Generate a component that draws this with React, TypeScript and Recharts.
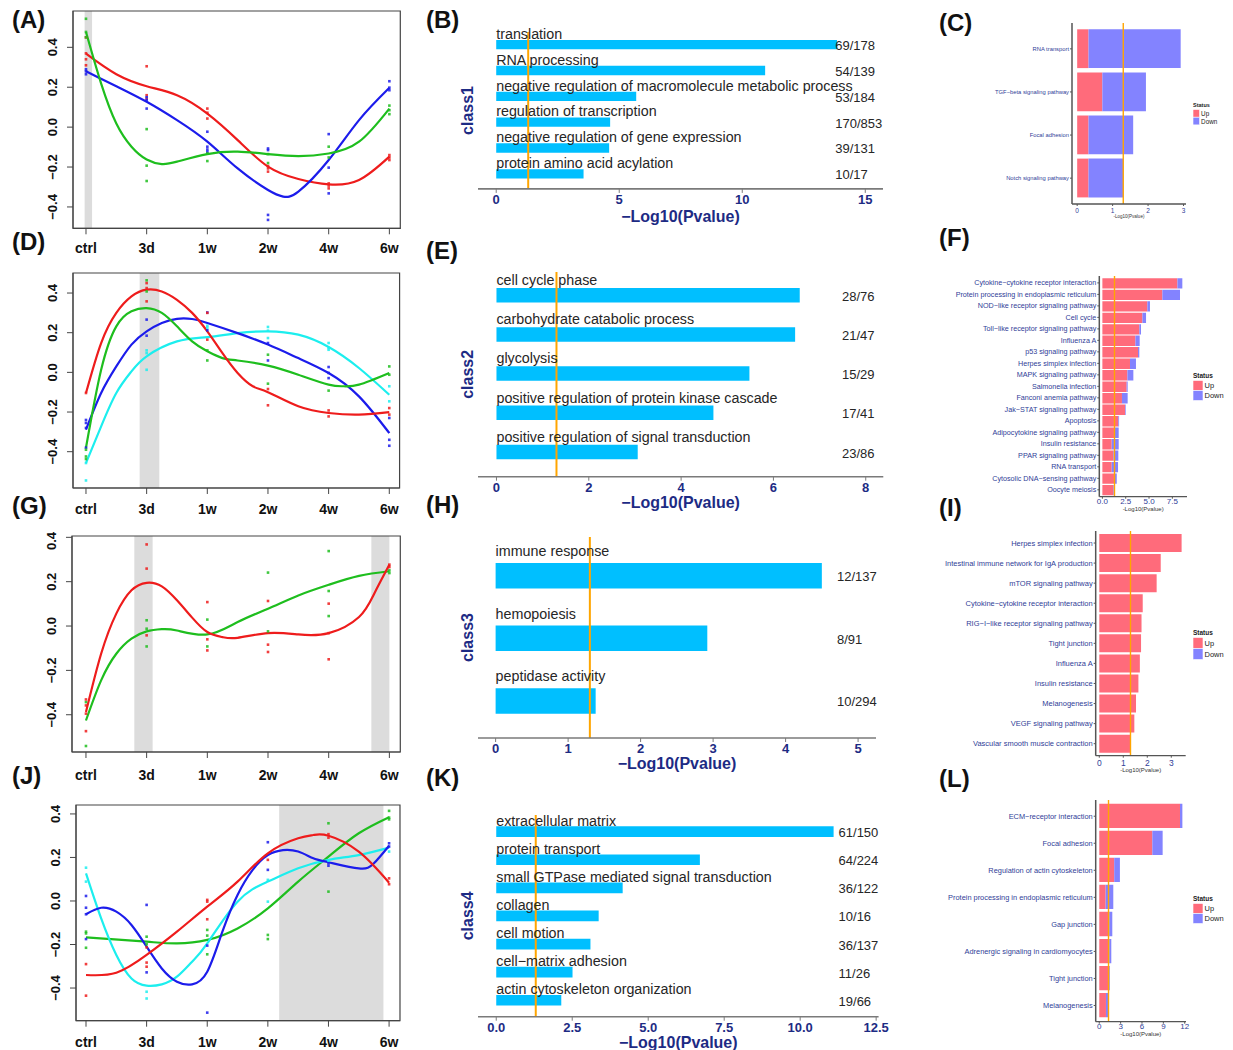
import React from "react";
import {
  ComposedChart,
  Line,
  Scatter,
  XAxis,
  YAxis,
  ReferenceArea,
  ReferenceLine,
  BarChart,
  Bar,
  LabelList,
} from "recharts";

const FONT = 'Arial, "Liberation Sans", Helvetica, sans-serif';
const NAVY = "#1d2b84";
const TICK_BLUE = "#2f4097";
const BOX = "#444";
const SKY = "#00BFFF";
const ORANGE = "#FFA500";
const UP = "#FF6B7B";
const DOWN = "#8383FF";
const RED = "#EE1C1C";
const GREEN = "#1EBE1E";
const BLUE = "#1C1CEB";
const CYAN = "#1CEEEE";

const TIME = ["ctrl", "3d", "1w", "2w", "4w", "6w"];

// ---- trend panels: fitted curves [time index, value] and replicate dots per time point
const A_RED = [[0, 0.368], [0.5, 0.265], [1, 0.205], [1.5, 0.16], [2, 0.068], [2.5, -0.065], [3, -0.198], [3.5, -0.26], [4, -0.287], [4.5, -0.265], [5, -0.148]];
const A_BLUE = [[0, 0.28], [0.5, 0.205], [1, 0.127], [1.5, 0.035], [2, -0.073], [2.5, -0.207], [3, -0.315], [3.25, -0.348], [3.5, -0.323], [4, -0.165], [4.5, 0.035], [5, 0.197]];
const A_GREEN = [[0, 0.477], [0.25, 0.218], [0.5, 0.018], [0.75, -0.098], [1, -0.162], [1.25, -0.185], [1.5, -0.173], [2, -0.135], [2.5, -0.123], [3, -0.135], [3.5, -0.145], [4, -0.132], [4.5, -0.073], [5, 0.093]];
const A_RED_PTS = [[0.45, 0.37, 0.34, 0.31], [0.305, 0.16, 0.143], [0.093, 0.072, 0.043], [-0.195, -0.207, -0.223], [-0.282, -0.293, -0.307], [-0.14, -0.152, -0.165]];
const A_BLUE_PTS = [[0.29, 0.28, 0.265], [0.15, 0.135, 0.093], [-0.023, -0.098, -0.112, -0.123], [-0.107, -0.115, -0.44, -0.465], [-0.035, -0.203, -0.332], [0.23, 0.198, 0.185]];
const A_GREEN_PTS = [[0.543, 0.477, 0.45], [-0.01, -0.193, -0.27], [-0.132, -0.17], [-0.135, -0.18], [-0.098, -0.152], [0.108, 0.085, 0.065]];

const D_RED = [[0, -0.104], [0.25, 0.148], [0.5, 0.3], [0.75, 0.383], [1, 0.417], [1.25, 0.408], [1.5, 0.366], [1.75, 0.3], [2, 0.207], [2.25, 0.097], [2.5, -0.003], [2.75, -0.07], [3, -0.1], [3.5, -0.171], [4, -0.205], [4.5, -0.213], [5, -0.2]];
const D_GREEN = [[0, -0.38], [0.25, 0.013], [0.5, 0.232], [0.75, 0.308], [1, 0.324], [1.25, 0.3], [1.5, 0.232], [1.75, 0.156], [2, 0.106], [2.25, 0.072], [2.5, 0.06], [3, 0.034], [3.5, -0.012], [4, -0.062], [4.25, -0.07], [4.5, -0.062], [5, -0.003]];
const D_BLUE = [[0, -0.289], [0.25, -0.104], [0.5, 0.03], [0.75, 0.14], [1, 0.207], [1.25, 0.249], [1.5, 0.27], [1.75, 0.269], [2, 0.249], [2.5, 0.198], [3, 0.14], [3.5, 0.072], [4, -0.003], [4.5, -0.121], [5, -0.306]];
const D_CYAN = [[0, -0.457], [0.25, -0.272], [0.5, -0.104], [0.75, 0.005], [1, 0.081], [1.5, 0.156], [2, 0.178], [2.5, 0.198], [3, 0.207], [3.5, 0.19], [4, 0.128], [4.5, 0.022], [5, -0.113]];
const D_RED_PTS = [[-0.104], [0.45, 0.425, 0.358], [0.3, 0.165], [-0.084, -0.166], [-0.192, -0.222], [-0.18, -0.213]];
const D_GREEN_PTS = [[-0.39, -0.424, -0.437], [0.464, 0.408], [0.111, 0.06], [0.089, -0.057], [-0.092], [0.03, -0.012]];
const D_BLUE_PTS = [[-0.24, -0.255, -0.28, -0.38], [0.266, 0.185], [0.302, 0.212], [0.148, 0.06], [0.027, -0.003, -0.029], [-0.23, -0.34, -0.37]];
const D_CYAN_PTS = [[-0.457, -0.545], [0.111, 0.097, 0.013], [0.235, 0.224], [0.229, 0.21, 0.173], [0.148, 0.123, 0.114], [-0.07, -0.146]];

const G_RED = [[0, -0.388], [0.25, -0.125], [0.5, 0.056], [0.75, 0.161], [1, 0.195], [1.25, 0.179], [1.5, 0.116], [1.75, 0.038], [2, -0.027], [2.25, -0.05], [2.5, -0.053], [3, -0.032], [3.5, -0.038], [4, -0.032], [4.5, 0.041], [4.75, 0.146], [5, 0.277]];
const G_GREEN = [[0, -0.426], [0.25, -0.245], [0.5, -0.125], [0.75, -0.057], [1, -0.024], [1.25, -0.014], [1.5, -0.02], [2, -0.038], [2.5, 0.018], [3, 0.078], [3.5, 0.138], [4, 0.186], [4.5, 0.226], [5, 0.247]];
const G_RED_PTS = [[-0.331, -0.358, -0.395, -0.474], [0.368, 0.259, -0.042], [0.108, -0.06, -0.11], [0.113, -0.084, -0.117], [0.101, -0.032, -0.15], [0.277, 0.266]];
const G_GREEN_PTS = [[-0.343, -0.541], [0.026, -0.012, -0.092], [0.029, -0.092], [0.241, -0.024], [0.338, 0.158, 0.045], [0.251, 0.239]];

const J_RED = [[0, -0.34], [0.5, -0.33], [1, -0.248], [1.5, -0.141], [2, -0.026], [2.5, 0.089], [3, 0.219], [3.5, 0.288], [3.75, 0.303], [4, 0.3], [4.5, 0.227], [5, 0.084]];
const J_GREEN = [[0, -0.167], [1, -0.187], [1.5, -0.195], [2, -0.179], [2.5, -0.126], [3, -0.034], [3.5, 0.089], [4, 0.204], [4.5, 0.311], [5, 0.385]];
const J_BLUE = [[0, -0.061], [0.25, -0.031], [0.5, -0.049], [0.75, -0.11], [1, -0.21], [1.25, -0.31], [1.5, -0.371], [1.75, -0.383], [2, -0.325], [2.25, -0.141], [2.5, 0.028], [2.75, 0.143], [3, 0.211], [3.25, 0.234], [3.5, 0.227], [3.75, 0.196], [4, 0.178], [4.5, 0.15], [4.75, 0.173], [5, 0.254]];
const J_CYAN = [[0, 0.127], [0.25, -0.08], [0.5, -0.248], [0.75, -0.356], [1, -0.389], [1.25, -0.383], [1.5, -0.348], [1.75, -0.279], [2, -0.195], [2.5, -0.003], [3, 0.089], [3.5, 0.15], [4, 0.189], [4.5, 0.211], [5, 0.245]];
const J_RED_PTS = [[-0.29, -0.435], [-0.213, -0.283, -0.302], [0.005, -0.003, -0.084], [0.189], [0.307, 0.291], [0.104, 0.077]];
const J_GREEN_PTS = [[-0.141, -0.149, -0.215], [-0.164, -0.199], [-0.133, -0.159, -0.245], [-0.156, -0.175], [0.357, 0.043], [0.414, 0.383, 0.375]];
const J_BLUE_PTS = [[0.023, -0.031, -0.061, -0.175], [-0.018, -0.328], [-0.205, -0.513], [0.27, 0.143], [0.173, 0.162], [0.265, 0.25]];
const J_CYAN_PTS = [[0.153, 0.089], [-0.417, -0.448], [], [0.097, -0.003], [0.184], [0.227]];

// ---- GO enrichment panels
const B_TERMS = ["translation", "RNA processing", "negative regulation of macromolecule metabolic process", "regulation of transcription", "negative regulation of gene expression", "protein amino acid acylation"];
const B_VALUES = [13.85, 10.93, 5.69, 4.63, 4.59, 3.55];
const B_COUNTS = ["69/178", "54/139", "53/184", "170/853", "39/131", "10/17"];

const E_TERMS = ["cell cycle phase", "carbohydrate catabolic process", "glycolysis", "positive regulation of protein kinase cascade", "positive regulation of signal transduction"];
const E_VALUES = [6.57, 6.47, 5.48, 4.7, 3.06];
const E_COUNTS = ["28/76", "21/47", "15/29", "17/41", "23/86"];

const H_TERMS = ["immune response", "hemopoiesis", "peptidase activity"];
const H_VALUES = [4.5, 2.92, 1.38];
const H_COUNTS = ["12/137", "8/91", "10/294"];

const K_TERMS = ["extracellular matrix", "protein transport", "small GTPase mediated signal transduction", "collagen", "cell motion", "cell\u2212matrix adhesion", "actin cytoskeleton organization"];
const K_VALUES = [11.1, 6.7, 4.16, 3.37, 3.1, 2.51, 2.14];
const K_COUNTS = ["61/150", "64/224", "36/122", "10/16", "36/137", "11/26", "19/66"];

// ---- KEGG panels (up / down parts of -log10 p)
const C_PATHS = ["RNA transport", "TGF\u2212beta signaling pathway", "Focal adhesion", "Notch signaling pathway"];
const C_UP = [0.32, 0.71, 0.32, 0.32];
const C_DOWN = [2.6, 1.23, 1.26, 0.98];

const F_PATHS = [
  "Cytokine\u2212cytokine receptor interaction",
  "Protein processing in endoplasmic reticulum",
  "NOD\u2212like receptor signaling pathway",
  "Cell cycle",
  "Toll\u2212like receptor signaling pathway",
  "Influenza A",
  "p53 signaling pathway",
  "Herpes simplex infection",
  "MAPK signaling pathway",
  "Salmonella infection",
  "Fanconi anemia pathway",
  "Jak\u2212STAT signaling pathway",
  "Apoptosis",
  "Adipocytokine signaling pathway",
  "Insulin resistance",
  "PPAR signaling pathway",
  "RNA transport",
  "Cytosolic DNA\u2212sensing pathway",
  "Oocyte meiosis",
];
const F_UP = [8.04, 6.43, 4.82, 4.29, 3.96, 3.54, 3.82, 2.96, 2.68, 2.6, 2.1, 2.43, 1.71, 1.25, 1.0, 1.18, 1.0, 1.32, 1.18];
const F_DOWN = [0.53, 1.89, 0.28, 0.39, 0.18, 0.46, 0.14, 0.64, 0.64, 0.11, 0.61, 0.07, 0.08, 0.5, 0.75, 0.53, 0.68, 0.22, 0.14];

const I_PATHS = [
  "Herpes simplex infection",
  "Intestinal immune network for IgA production",
  "mTOR signaling pathway",
  "Cytokine\u2212cytokine receptor interaction",
  "RIG\u2212I\u2212like receptor signaling pathway",
  "Tight junction",
  "Influenza A",
  "Insulin resistance",
  "Melanogenesis",
  "VEGF signaling pathway",
  "Vascular smooth muscle contraction",
];
const I_UP = [3.43, 2.56, 2.39, 1.81, 1.76, 1.74, 1.69, 1.63, 1.53, 1.46, 1.32];
const I_DOWN = [0, 0, 0, 0, 0, 0, 0, 0, 0, 0, 0];

const L_PATHS = [
  "ECM\u2212receptor interaction",
  "Focal adhesion",
  "Regulation of actin cytoskeleton",
  "Protein processing in endoplasmic reticulum",
  "Gap junction",
  "Adrenergic signaling in cardiomyocytes",
  "Tight junction",
  "Melanogenesis",
];
const L_UP = [11.34, 7.45, 2.1, 0.9, 1.4, 1.4, 1.4, 0.94];
const L_DOWN = [0.33, 1.45, 0.8, 1.07, 0.43, 0.29, 0.1, 0.42];

// chart frame so that the plot area lands on a given page box
function frame(box: any, yw: number, xh: number, mt = 4, mr = 6, mb = 4) {
  return {
    style: { position: "absolute" as const, left: box.l - yw, top: box.t - mt },
    width: yw + (box.r - box.l) + mr,
    height: mt + (box.b - box.t) + xh + mb,
    margin: { top: mt, right: mr, bottom: mb, left: 0 },
  };
}

const minus = (s: string) => s.replace("-", "\u2212");

function TrendPanel({ box, xDomain, yDomain, series, bands, labelDy }: any) {
  const yw = 40;
  const xh = 34;
  const f = frame(box, yw, xh);
  return (
    <div style={f.style}>
      <ComposedChart width={f.width} height={f.height} margin={f.margin}>
        <XAxis
          type="number"
          dataKey="x"
          domain={xDomain}
          allowDataOverflow
          ticks={[0, 1, 2, 3, 4, 5]}
          interval={0}
          height={xh}
          tickSize={6}
          axisLine={{ stroke: BOX }}
          tickLine={{ stroke: BOX }}
          tick={(p: any) => (
            <text x={p.x} y={p.y + labelDy - 3} textAnchor="middle" fontFamily={FONT} fontWeight="bold" fontSize={14} fill="#111">
              {TIME[p.payload.value]}
            </text>
          )}
        />
        <YAxis
          type="number"
          dataKey="y"
          domain={yDomain}
          allowDataOverflow
          ticks={[-0.4, -0.2, 0, 0.2, 0.4]}
          width={yw}
          tickSize={6}
          axisLine={{ stroke: BOX }}
          tickLine={{ stroke: BOX }}
          tick={(p: any) => (
            <text
              x={p.x - 8}
              y={p.y}
              transform={`rotate(-90 ${p.x - 8} ${p.y})`}
              textAnchor="middle"
              fontFamily={FONT}
              fontWeight="bold"
              fontSize={13}
              fill="#111"
            >
              {minus(p.payload.value.toFixed(1))}
            </text>
          )}
        />
        {bands.map((b: number[], i: number) => (
          <ReferenceArea key={"band" + i} x1={b[0]} x2={b[1]} fill="#d6d6d6" fillOpacity={0.85} stroke="none" />
        ))}
        <ReferenceArea x1={xDomain[0]} x2={xDomain[1]} y1={yDomain[0]} y2={yDomain[1]} fill="none" stroke={BOX} strokeWidth={1.2} />
        {series.map((s: any, i: number) => (
          <Scatter
            key={"pts" + i}
            data={s.dots.flatMap((vals: number[], t: number) => vals.map((v) => ({ x: t, y: v })))}
            dataKey="y"
            fill={s.color}
            isAnimationActive={false}
            shape={(p: any) => <rect x={p.cx - 1.3} y={p.cy - 1.3} width={2.6} height={2.6} fill={s.color} fillOpacity={0.85} />}
          />
        ))}
        {series.map((s: any, i: number) => (
          <Line
            key={"line" + i}
            data={s.line.map((d: number[]) => ({ x: d[0], y: d[1] }))}
            dataKey="y"
            type="natural"
            stroke={s.color}
            strokeWidth={2.2}
            dot={false}
            activeDot={false}
            isAnimationActive={false}
          />
        ))}
      </ComposedChart>
    </div>
  );
}

function GoPanel({ box, domain, ticks, fmt, terms, values, counts, cls, barSize, pad, textGap, countX, titleOffset }: any) {
  const data = terms.map((term: string, i: number) => ({ term, value: values[i], count: counts[i] }));
  const yw = 22;
  const xh = 42;
  const f = frame(box, yw, xh, 14, 12, 2);
  const localCountX = countX - (box.l - yw);
  return (
    <div style={f.style}>
      <BarChart layout="vertical" data={data} width={f.width} height={f.height} margin={f.margin}>
        <XAxis
          type="number"
          domain={domain}
          allowDataOverflow
          ticks={ticks}
          interval={0}
          height={xh}
          tickSize={4}
          axisLine={{ stroke: "#7a7a7a", strokeWidth: 1.6 }}
          tickLine={{ stroke: "#7a7a7a" }}
          tick={(p: any) => (
            <text x={p.x} y={p.y + 9} textAnchor="middle" fontFamily={FONT} fontWeight="bold" fontSize={13} fill={NAVY}>
              {fmt(p.payload.value)}
            </text>
          )}
          label={{
            value: "\u2212Log10(Pvalue)",
            position: "insideTop",
            offset: titleOffset,
            fill: NAVY,
            fontSize: 16,
            fontWeight: "bold",
            fontFamily: FONT,
          }}
        />
        <YAxis
          type="category"
          dataKey="term"
          width={yw}
          tick={false}
          axisLine={false}
          tickLine={false}
          padding={{ top: pad[0], bottom: pad[1] }}
          label={{ value: cls, angle: -90, position: "center", fill: NAVY, fontSize: 16, fontWeight: "bold", fontFamily: FONT }}
        />
        <Bar dataKey="value" fill={SKY} barSize={barSize} isAnimationActive={false}>
          <LabelList
            dataKey="term"
            content={(p: any) => (
              <text x={p.x} y={p.y - textGap} fontFamily={FONT} fontSize={14.3} fill="#262626">
                {p.value}
              </text>
            )}
          />
          <LabelList
            dataKey="count"
            content={(p: any) => (
              <text x={localCountX} y={p.y + p.height / 2 + 1} dominantBaseline="central" fontFamily={FONT} fontSize={13} fill="#262626">
                {p.value}
              </text>
            )}
          />
        </Bar>
        <ReferenceLine x={1.3} stroke={ORANGE} strokeWidth={2} />
      </BarChart>
    </div>
  );
}

function KeggPanel({ box, left, domain, ticks, fmt, paths, up, down, barSize, pad, fs, tfs, lfs, tickMargin, xh }: any) {
  const data = paths.map((path: string, i: number) => ({ path, up: up[i], down: down[i] }));
  const yw = box.l - left;
  const f = frame(box, yw, xh, 2, 8, 2);
  return (
    <div style={f.style}>
      <BarChart layout="vertical" data={data} width={f.width} height={f.height} margin={f.margin}>
        <XAxis
          type="number"
          domain={domain}
          allowDataOverflow
          ticks={ticks}
          interval={0}
          height={xh}
          tickSize={2}
          tickMargin={tickMargin}
          tickFormatter={fmt}
          axisLine={{ stroke: "#555", strokeWidth: 1.3 }}
          tickLine={{ stroke: "#555" }}
          tick={{ fontSize: tfs, fill: TICK_BLUE, fontFamily: FONT }}
          label={{ value: "-Log10(Pvalue)", position: "insideBottom", offset: 0, fill: "#333", fontSize: lfs, fontFamily: FONT }}
        />
        <YAxis
          type="category"
          dataKey="path"
          width={yw}
          interval={0}
          tickSize={2}
          tickMargin={1}
          padding={{ top: pad, bottom: pad }}
          axisLine={{ stroke: "#555", strokeWidth: 1.5 }}
          tickLine={{ stroke: "#555" }}
          tick={(p: any) => (
            <text x={p.x} y={p.y} textAnchor="end" dominantBaseline="central" fontFamily={FONT} fontSize={fs} fill={TICK_BLUE}>
              {p.payload.value}
            </text>
          )}
        />
        <Bar dataKey="up" stackId="s" fill={UP} barSize={barSize} isAnimationActive={false} />
        <Bar dataKey="down" stackId="s" fill={DOWN} barSize={barSize} isAnimationActive={false} />
        <ReferenceLine x={1.3} stroke={ORANGE} strokeWidth={1.4} />
      </BarChart>
    </div>
  );
}

function StatusLegend({ x, y, fs, sw, sh }: any) {
  return (
    <svg style={{ position: "absolute", left: x, top: y, overflow: "visible" }} width={40} height={3 * sh + 4}>
      <text x={0} y={fs * 0.75} fontFamily={FONT} fontWeight="bold" fontSize={fs} fill="#222">
        Status
      </text>
      {[["Up", UP], ["Down", DOWN]].map(([name, color], i) => (
        <g key={name}>
          <rect x={0} y={fs + 1 + i * sh} width={sw} height={sh} fill={color} stroke="#fff" strokeWidth={0.6} />
          <text x={sw + 1.5} y={fs + 1 + i * sh + sh / 2} dominantBaseline="central" fontFamily={FONT} fontSize={fs * 1.15} fill="#222">
            {name}
          </text>
        </g>
      ))}
    </svg>
  );
}

const PANEL_LETTERS = [
  ["(A)", 12, 28], ["(B)", 426, 28], ["(C)", 939, 31],
  ["(D)", 12, 250], ["(E)", 426, 259], ["(F)", 939, 246],
  ["(G)", 12, 514], ["(H)", 426, 513], ["(I)", 939, 516],
  ["(J)", 12, 784], ["(K)", 426, 786], ["(L)", 939, 787],
];

export default function App() {
  const str = (v: number) => String(v);
  return (
    <div style={{ position: "absolute", left: 0, top: 0, width: 1233, height: 1050, background: "#fff", overflow: "hidden", fontFamily: FONT }}>
      <TrendPanel
        box={{ l: 72.7, t: 10.7, r: 400, b: 228 }}
        xDomain={[-0.214, 5.18]}
        yDomain={[-0.507, 0.582]}
        bands={[[-0.022, 0.1]]}
        labelDy={20}
        series={[
          { color: RED, line: A_RED, dots: A_RED_PTS },
          { color: BLUE, line: A_BLUE, dots: A_BLUE_PTS },
          { color: GREEN, line: A_GREEN, dots: A_GREEN_PTS },
        ]}
      />
      <TrendPanel
        box={{ l: 72.7, t: 273.3, r: 399.3, b: 488.3 }}
        xDomain={[-0.214, 5.17]}
        yDomain={[-0.583, 0.501]}
        bands={[[0.885, 1.209]]}
        labelDy={21.5}
        series={[
          { color: CYAN, line: D_CYAN, dots: D_CYAN_PTS },
          { color: BLUE, line: D_BLUE, dots: D_BLUE_PTS },
          { color: GREEN, line: D_GREEN, dots: D_GREEN_PTS },
          { color: RED, line: D_RED, dots: D_RED_PTS },
        ]}
      />
      <TrendPanel
        box={{ l: 71.7, t: 535.7, r: 400, b: 751.7 }}
        xDomain={[-0.23, 5.18]}
        yDomain={[-0.568, 0.406]}
        bands={[[0.797, 1.099], [4.703, 5.0]]}
        labelDy={23}
        series={[
          { color: GREEN, line: G_GREEN, dots: G_GREEN_PTS },
          { color: RED, line: G_RED, dots: G_RED_PTS },
        ]}
      />
      <TrendPanel
        box={{ l: 76, t: 805, r: 400, b: 1020.7 }}
        xDomain={[-0.165, 5.18]}
        yDomain={[-0.55, 0.441]}
        bands={[[3.187, 4.907]]}
        labelDy={21.3}
        series={[
          { color: GREEN, line: J_GREEN, dots: J_GREEN_PTS },
          { color: CYAN, line: J_CYAN, dots: J_CYAN_PTS },
          { color: BLUE, line: J_BLUE, dots: J_BLUE_PTS },
          { color: RED, line: J_RED, dots: J_RED_PTS },
        ]}
      />

      <GoPanel
        box={{ l: 477.7, t: 32.4, r: 882.7, b: 189.3 }}
        domain={[-0.74, 15.72]}
        ticks={[0, 5, 10, 15]}
        fmt={str}
        terms={B_TERMS}
        values={B_VALUES}
        counts={B_COUNTS}
        cls="class1"
        barSize={9.3}
        pad={[0, 1.9]}
        textGap={1}
        countX={835}
        titleOffset={22}
      />
      <GoPanel
        box={{ l: 477.7, t: 272, r: 883, b: 476.7 }}
        domain={[-0.4, 8.38]}
        ticks={[0, 2, 4, 6, 8]}
        fmt={str}
        terms={E_TERMS}
        values={E_VALUES}
        counts={E_COUNTS}
        cls="class2"
        barSize={14.5}
        pad={[3.9, 4.6]}
        textGap={3}
        countX={841.7}
        titleOffset={19.5}
      />
      <GoPanel
        box={{ l: 477.7, t: 537.3, r: 875.7, b: 738.3 }}
        domain={[-0.243, 5.247]}
        ticks={[0, 1, 2, 3, 4, 5]}
        fmt={str}
        terms={H_TERMS}
        values={H_VALUES}
        counts={H_COUNTS}
        cls="class3"
        barSize={25.5}
        pad={[6.9, 6.2]}
        textGap={7}
        countX={836.7}
        titleOffset={20}
      />
      <GoPanel
        box={{ l: 477.7, t: 815, r: 878.3, b: 1016.7 }}
        domain={[-0.6, 12.58]}
        ticks={[0, 2.5, 5, 7.5, 10, 12.5]}
        fmt={(v: number) => v.toFixed(1)}
        terms={K_TERMS}
        values={K_VALUES}
        counts={K_COUNTS}
        cls="class4"
        barSize={10.7}
        pad={[2.3, 2.7]}
        textGap={0.5}
        countX={838.3}
        titleOffset={19.5}
      />

      <KeggPanel
        box={{ l: 1072, t: 23, r: 1186, b: 204 }}
        left={985}
        domain={[-0.146, 3.07]}
        ticks={[0, 1, 2, 3]}
        fmt={str}
        paths={C_PATHS}
        up={C_UP}
        down={C_DOWN}
        barSize={38.8}
        pad={4.3}
        fs={5.8}
        tfs={6.5}
        lfs={4.5}
        tickMargin={2.5}
        xh={14}
      />
      <KeggPanel
        box={{ l: 1099.3, t: 276, r: 1187, b: 496.7 }}
        left={930}
        domain={[-0.33, 9.07]}
        ticks={[0, 2.5, 5, 7.5]}
        fmt={(v: number) => v.toFixed(1)}
        paths={F_PATHS}
        up={F_UP}
        down={F_DOWN}
        barSize={10.3}
        pad={1.15}
        fs={7.2}
        tfs={8}
        lfs={6}
        tickMargin={0}
        xh={13.8}
      />
      <KeggPanel
        box={{ l: 1095.7, t: 531, r: 1185.7, b: 755.7 }}
        left={930}
        domain={[-0.15, 3.6]}
        ticks={[0, 1, 2, 3]}
        fmt={str}
        paths={I_PATHS}
        up={I_UP}
        down={I_DOWN}
        barSize={18}
        pad={2}
        fs={7.5}
        tfs={8.5}
        lfs={6}
        tickMargin={2.6}
        xh={16.6}
      />
      <KeggPanel
        box={{ l: 1095.7, t: 800, r: 1186, b: 1021.7 }}
        left={930}
        domain={[-0.5, 12.18]}
        ticks={[0, 3, 6, 9, 12]}
        fmt={str}
        paths={L_PATHS}
        up={L_UP}
        down={L_DOWN}
        barSize={24.3}
        pad={2.7}
        fs={7.4}
        tfs={8}
        lfs={6}
        tickMargin={0}
        xh={13.8}
      />

      <StatusLegend x={1192.7} y={103} fs={5.5} sw={6.6} sh={7.7} />
      <StatusLegend x={1193.3} y={372.5} fs={6.5} sw={10} sh={10} />
      <StatusLegend x={1193.3} y={629.5} fs={6.5} sw={10} sh={11} />
      <StatusLegend x={1193.3} y={895.5} fs={6.5} sw={10} sh={10} />

      <svg style={{ position: "absolute", left: 0, top: 0, pointerEvents: "none" }} width={1233} height={1050}>
        {PANEL_LETTERS.map(([t, x, y]) => (
          <text key={t as string} x={x as number} y={y as number} fontFamily={FONT} fontWeight="bold" fontSize={24} fill="#111">
            {t}
          </text>
        ))}
      </svg>
    </div>
  );
}
